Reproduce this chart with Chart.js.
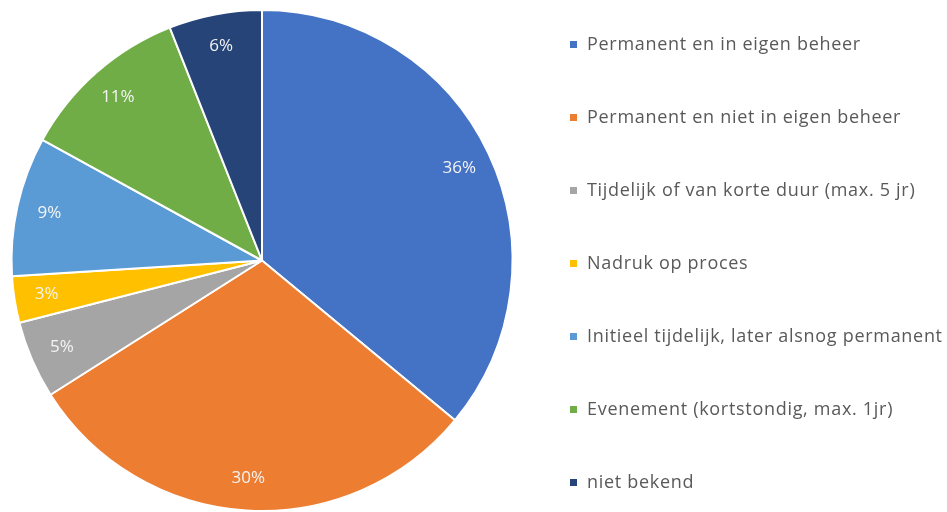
<!DOCTYPE html>
<html>
<head>
<meta charset="utf-8">
<script src="https://cdn.jsdelivr.net/npm/chart.js@4/dist/chart.umd.min.js"></script>
<style>
  html, body { margin: 0; padding: 0; background: #fff; }
  #wrap { width: 947px; height: 512px; position: relative; }
</style>
</head>
<body>
<div id="wrap"><canvas id="myChart"></canvas></div>
<script>
// categories + values
const categories = [
  'Permanent en in eigen beheer',
  'Permanent en niet in eigen beheer',
  'Tijdelijk of van korte duur (max. 5 jr)',
  'Nadruk op proces',
  'Initieel tijdelijk, later alsnog permanent',
  'Evenement (kortstondig, max. 1jr)',
  'niet bekend'
];
const percentages = [36, 30, 5, 3, 9, 11, 6];
const sliceColors = ['#4472C4', '#ED7D31', '#A5A5A5', '#FFC000', '#5B9BD5', '#70AD47', '#264478'];

// white % labels inside the slices
const sliceLabels = {
  id: 'sliceLabels',
  afterDatasetsDraw(chart) {
    const ctx = chart.ctx;
    const meta = chart.getDatasetMeta(0);
    ctx.save();
    ctx.font = '17px "Open Sans", sans-serif';
    ctx.fillStyle = '#f4f4f4';
    ctx.textAlign = 'center';
    ctx.textBaseline = 'middle';
    meta.data.forEach((arc, i) => {
      const p = arc.getProps(['x', 'y', 'startAngle', 'endAngle', 'outerRadius'], true);
      const mid = (p.startAngle + p.endAngle) / 2;
      const r = p.outerRadius * 0.87;
      ctx.fillText(percentages[i] + '%', p.x + Math.cos(mid) * r, p.y + Math.sin(mid) * r);
    });
    ctx.restore();
  }
};

// legend on the right, drawn by hand because of the wide spacing
const sideLegend = {
  id: 'sideLegend',
  afterDraw(chart) {
    const ctx = chart.ctx;
    ctx.save();
    ctx.font = '18px "Open Sans", sans-serif';
    ctx.letterSpacing = '0.7px';
    ctx.textBaseline = 'middle';
    categories.forEach((name, i) => {
      const y = 45 + i * 73;
      ctx.fillStyle = sliceColors[i];
      ctx.fillRect(570, y - 4, 7, 7);
      ctx.fillStyle = '#595959';
      ctx.fillText(name, 587, y);
    });
    ctx.restore();
  }
};

new Chart(document.getElementById('myChart').getContext('2d'), {
  type: 'pie',
  data: {
    labels: categories,
    datasets: [{
      data: percentages,
      backgroundColor: sliceColors,
      borderColor: '#ffffff',
      borderWidth: 2
    }]
  },
  options: {
    responsive: true,
    maintainAspectRatio: false,
    animation: false,
    layout: { padding: { left: 10, top: 9, bottom: 0, right: 433 } },
    plugins: {
      legend: { display: false },
      tooltip: { enabled: false }
    }
  },
  plugins: [sliceLabels, sideLegend]
});
</script>
</body>
</html>
